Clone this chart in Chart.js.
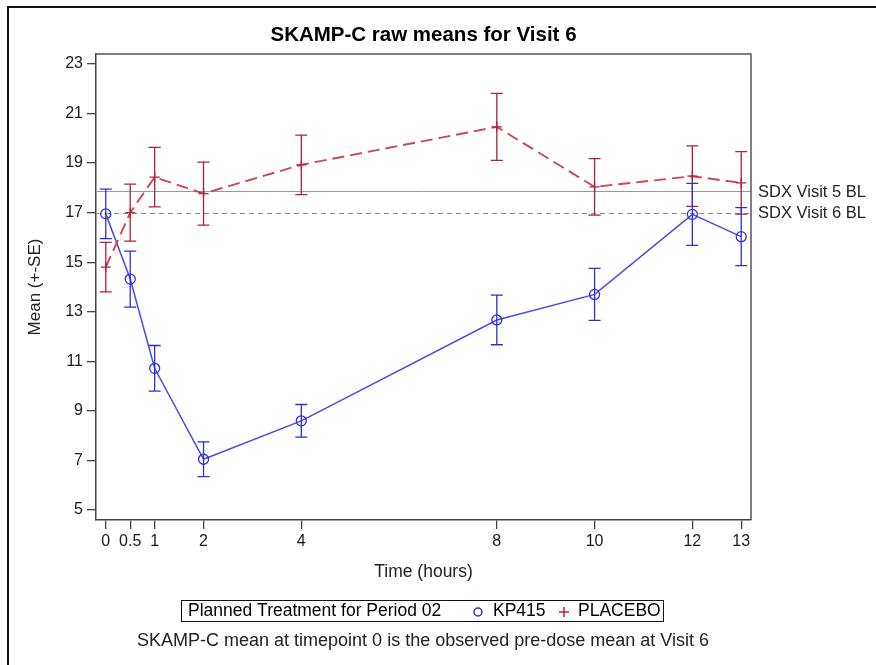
<!DOCTYPE html>
<html>
<head>
<meta charset="utf-8">
<script src="https://cdn.jsdelivr.net/npm/chart.js@4/dist/chart.umd.min.js"></script>
<style>
  html, body { margin: 0; padding: 0; background: #fff; }
  #wrap { width: 876px; height: 665px; position: relative; }
</style>
</head>
<body>
<div id="wrap"><canvas id="chart" width="876" height="665"></canvas></div>
<script>
// data
var hours = [0, 0.5, 1, 2, 4, 8, 10, 12, 13];
var kpMean = [16.95, 14.32, 10.72, 7.05, 8.6, 12.67, 13.7, 16.93, 16.03];
var kpSE = [1.0, 1.13, 0.92, 0.7, 0.66, 1.0, 1.05, 1.25, 1.17];
var plMean = [14.8, 17.0, 18.43, 17.77, 18.93, 20.46, 18.04, 18.47, 18.2];
var plSE = [1.0, 1.15, 1.2, 1.27, 1.2, 1.35, 1.14, 1.22, 1.26];
var yTicks = [5, 7, 9, 11, 13, 15, 17, 19, 21, 23];
var refValues = [17.86, 17.0];
var refLabels = ["SDX Visit 5 BL", "SDX Visit 6 BL"];

var FONT = "'Liberation Sans', Arial, sans-serif";
var blueLine = "#4a4aea";
var blueBar = "#2d2de0";
var redLine = "#c84858";
var redBar = "#b3203a";

function toPoints(xs, ys) {
  return xs.map(function (x, i) { return { x: x, y: ys[i] }; });
}

// error bars, reference lines, frame, titles, legend
var decor = {
  id: "decor",
  beforeDatasetsDraw: function (chart) {
    var ctx = chart.ctx;
    var y = chart.scales.y;
    var a = chart.chartArea;
    ctx.save();
    ctx.lineWidth = 1;
    refValues.forEach(function (v, i) {
      var py = Math.round(y.getPixelForValue(v)) + 0.5;
      ctx.strokeStyle = i === 0 ? "#999" : "#8a8a8a";
      ctx.setLineDash(i === 0 ? [] : [5, 4]);
      ctx.beginPath();
      ctx.moveTo(a.left, py);
      ctx.lineTo(a.right, py);
      ctx.stroke();
    });
    ctx.restore();
  },
  afterDatasetsDraw: function (chart) {
    var ctx = chart.ctx;
    var x = chart.scales.x, y = chart.scales.y;
    var a = chart.chartArea;
    ctx.save();
    ctx.lineWidth = 1.3;
    ctx.setLineDash([]);
    [[plMean, plSE, redBar], [kpMean, kpSE, blueBar]].forEach(function (s) {
      ctx.strokeStyle = s[2];
      hours.forEach(function (h, i) {
        var px = x.getPixelForValue(h);
        var top = y.getPixelForValue(s[0][i] + s[1][i]);
        var bot = y.getPixelForValue(s[0][i] - s[1][i]);
        ctx.beginPath();
        ctx.moveTo(px, top); ctx.lineTo(px, bot);
        ctx.moveTo(px - 6, top); ctx.lineTo(px + 6, top);
        ctx.moveTo(px - 6, bot); ctx.lineTo(px + 6, bot);
        ctx.stroke();
      });
    });

    // plot frame top/right
    ctx.strokeStyle = "#555";
    ctx.lineWidth = 1.5;
    ctx.beginPath();
    ctx.moveTo(a.left, a.top);
    ctx.lineTo(a.right, a.top);
    ctx.lineTo(a.right, a.bottom);
    ctx.stroke();

    // outer frame
    ctx.strokeStyle = "#111";
    ctx.lineWidth = 2;
    ctx.beginPath();
    ctx.moveTo(8, 665);
    ctx.lineTo(8, 7);
    ctx.lineTo(876, 7);
    ctx.stroke();

    // texts
    ctx.fillStyle = "#000";
    ctx.textBaseline = "middle";
    ctx.textAlign = "center";
    ctx.font = "bold 20.5px " + FONT;
    ctx.fillText("SKAMP-C raw means for Visit 6", (a.left + a.right) / 2, 35);

    ctx.fillStyle = "#222";
    ctx.font = "17.5px " + FONT;
    ctx.fillText("Time (hours)", (a.left + a.right) / 2, 572);
    ctx.font = "18px " + FONT;
    ctx.fillText("SKAMP-C mean at timepoint 0 is the observed pre-dose mean at Visit 6", 423, 641);

    ctx.save();
    ctx.font = "17px " + FONT;
    ctx.translate(35, (a.top + a.bottom) / 2);
    ctx.rotate(-Math.PI / 2);
    ctx.fillText("Mean (+-SE)", 0, 0);
    ctx.restore();

    ctx.textAlign = "left";
    ctx.font = "16.5px " + FONT;
    refValues.forEach(function (v, i) {
      ctx.fillText(refLabels[i], 758, y.getPixelForValue(v) + 1);
    });

    // legend
    ctx.font = "17.5px " + FONT;
    ctx.strokeStyle = "#111";
    ctx.lineWidth = 1;
    ctx.strokeRect(181.5, 600.5, 482, 21);
    ctx.fillStyle = "#000";
    ctx.fillText("Planned Treatment for Period 02", 188, 611.5);
    ctx.strokeStyle = blueBar;
    ctx.lineWidth = 1.5;
    ctx.beginPath();
    ctx.arc(478, 612, 4, 0, Math.PI * 2);
    ctx.stroke();
    ctx.fillText("KP415", 493, 611.5);
    ctx.strokeStyle = redBar;
    ctx.beginPath();
    ctx.moveTo(559, 612); ctx.lineTo(569, 612);
    ctx.moveTo(564, 607); ctx.lineTo(564, 617);
    ctx.stroke();
    ctx.fillText("PLACEBO", 578, 611.5);
    ctx.restore();
  }
};

new Chart(document.getElementById("chart"), {
  type: "scatter",
  data: {
    datasets: [
      {
        label: "PLACEBO",
        data: toPoints(hours, plMean),
        showLine: true,
        borderColor: redLine,
        borderWidth: 1.9,
        borderDash: [12, 6],
        pointStyle: "cross",
        pointRadius: 5,
        pointBorderColor: redBar,
        pointBorderWidth: 1.3,
        pointBackgroundColor: "transparent"
      },
      {
        label: "KP415",
        data: toPoints(hours, kpMean),
        showLine: true,
        borderColor: blueLine,
        borderWidth: 1.5,
        pointStyle: "circle",
        pointRadius: 5,
        pointBorderColor: blueBar,
        pointBorderWidth: 1.3,
        pointBackgroundColor: "transparent"
      }
    ]
  },
  options: {
    responsive: false,
    animation: false,
    layout: { padding: { left: 0, top: 54, right: 125, bottom: 0 } },
    plugins: { legend: { display: false }, tooltip: { enabled: false }, title: { display: false } },
    scales: {
      x: {
        type: "linear",
        min: -0.2,
        max: 13.2,
        afterFit: function (s) { s.height = 145; },
        afterBuildTicks: function (s) { s.ticks = hours.map(function (v) { return { value: v }; }); },
        grid: { drawOnChartArea: false, drawTicks: true, tickLength: 9, color: "#444", lineWidth: 1.3 },
        border: { display: true, color: "#444", width: 1.5 },
        ticks: {
          color: "#1a1a1a", font: { family: FONT, size: 16 }, padding: 3, maxRotation: 0, autoSkip: false,
          callback: function (v) { return String(v); }
        }
      },
      y: {
        type: "linear",
        min: 4.6,
        max: 23.4,
        afterFit: function (s) { s.width = 96; },
        afterBuildTicks: function (s) { s.ticks = yTicks.map(function (v) { return { value: v }; }); },
        grid: { drawOnChartArea: false, drawTicks: true, tickLength: 9, color: "#444", lineWidth: 1.3 },
        border: { display: true, color: "#444", width: 1.5 },
        ticks: { color: "#1a1a1a", font: { family: FONT, size: 16 }, padding: 4, autoSkip: false }
      }
    }
  },
  plugins: [decor]
});
</script>
</body>
</html>
